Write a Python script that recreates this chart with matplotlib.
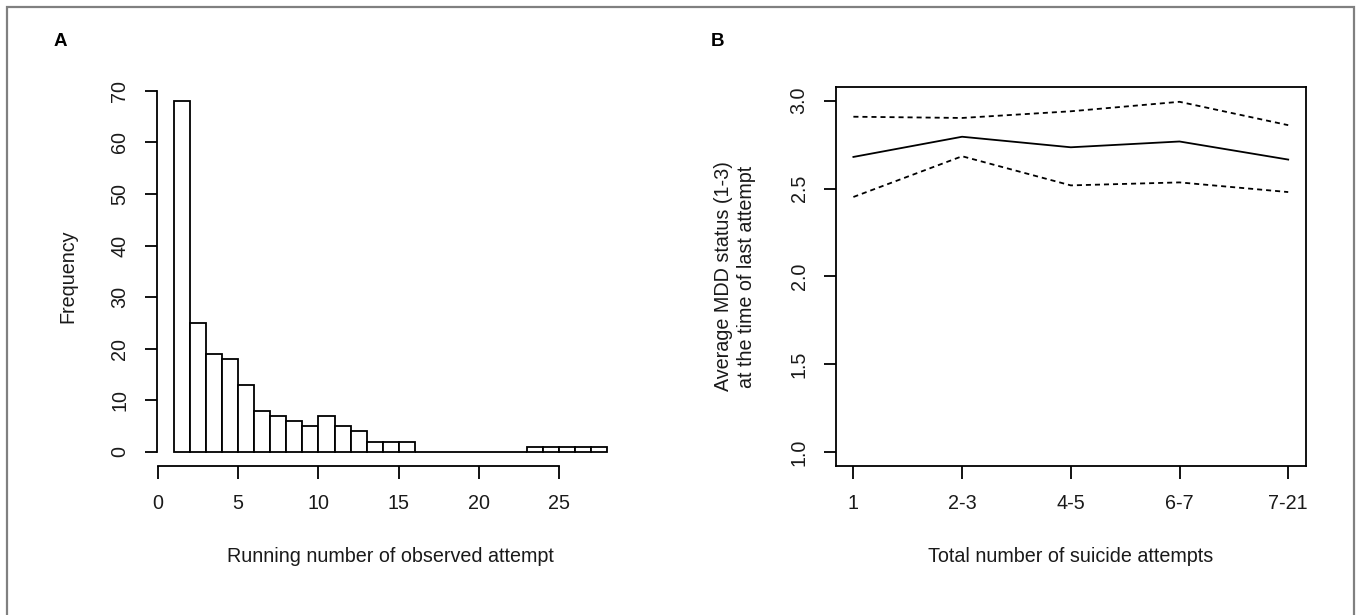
import matplotlib
matplotlib.use("Agg")
import matplotlib.pyplot as plt
from matplotlib.patches import Rectangle

plt.rcParams['font.family'] = ['Liberation Sans', 'DejaVu Sans']

# ---- Panel A data: histogram of running number of observed attempt ----
bin_start = 1
bin_width = 1
hist_counts = [68, 25, 19, 18, 13, 8, 7, 6, 5, 7, 5, 4, 2, 2, 2,
               0, 0, 0, 0, 0, 0, 0, 1, 1, 1, 1, 1]
a_xticks = [0, 5, 10, 15, 20, 25]
a_yticks = [0, 10, 20, 30, 40, 50, 60, 70]

# ---- Panel B data ----
b_categories = ["1", "2-3", "4-5", "6-7", "7-21"]
b_mean = [2.68, 2.795, 2.735, 2.768, 2.665]
b_upper = [2.909, 2.902, 2.94, 2.994, 2.861]
b_lower = [2.452, 2.684, 2.518, 2.535, 2.48]
b_yticks = [1.0, 1.5, 2.0, 2.5, 3.0]

W, H = 1357, 615
fig = plt.figure(figsize=(W / 100, H / 100), dpi=100)
fig.patch.set_facecolor("white")

def box(l, t, r, b):
    return [l / W, 1 - b / H, (r - l) / W, (b - t) / H]

def fx(x):
    return x / W

def fy(y):
    return 1 - y / H

FS = 14.2
TXT = "#1a1a1a"
LW = 1.3
TL = 9      # tick length (pt)
XPAD = 11.5
YPAD = 10.8

# border
fig.patches.append(Rectangle((7 / W, -0.05), (1354 - 7) / W, 1.05 - 7 / H,
                             transform=fig.transFigure, fill=False,
                             edgecolor="#808080", linewidth=1.6))

# ---------- Panel A ----------
axA = fig.add_axes(box(156.7, 87.0, 624.7, 466.0))
edges = [bin_start + i * bin_width for i in range(len(hist_counts))]
axA.bar(edges, hist_counts, width=bin_width, align="edge",
        facecolor="white", edgecolor="black", linewidth=LW)
axA.set_xlim(-0.08, 29.08)
axA.set_ylim(-2.72, 70.72)
for s in ["top", "right"]:
    axA.spines[s].set_visible(False)
axA.spines["left"].set_bounds(0, 70)
axA.spines["bottom"].set_bounds(0, 25)
for s in ["left", "bottom"]:
    axA.spines[s].set_linewidth(LW)
axA.set_xticks(a_xticks)
axA.set_xticklabels([str(v) for v in a_xticks])
axA.set_yticks(a_yticks)
axA.set_yticklabels([str(v) for v in a_yticks], rotation=90, va="center")
axA.tick_params(length=TL, width=LW, labelsize=FS, labelcolor=TXT)
axA.tick_params(axis="x", pad=XPAD)
axA.tick_params(axis="y", pad=YPAD)
axA.set_xlabel("Running number of observed attempt", fontsize=FS, color=TXT, va="center")
axA.xaxis.set_label_coords(fx(390.7), fy(557), transform=fig.transFigure)
axA.set_ylabel("Frequency", fontsize=FS, color=TXT, va="center")
axA.yaxis.set_label_coords(fx(68), fy(276.5), transform=fig.transFigure)
fig.text(60 / W, 1 - 41.5 / H, "A", fontsize=13.5, fontweight="bold",
         ha="center", va="center")

# ---------- Panel B ----------
axB = fig.add_axes(box(836.0, 86.7, 1305.6, 466.0))
xs = list(range(1, len(b_categories) + 1))
axB.plot(xs, b_mean, color="black", linewidth=LW)
axB.plot(xs, b_upper, color="black", linewidth=LW, dashes=(2.8, 2.2))
axB.plot(xs, b_lower, color="black", linewidth=LW, dashes=(2.8, 2.2))
axB.set_xlim(0.84, 5.16)
axB.set_ylim(0.92, 3.08)
for s in axB.spines.values():
    s.set_linewidth(LW)
axB.set_xticks(xs)
axB.set_xticklabels(b_categories)
axB.set_yticks(b_yticks)
axB.set_yticklabels([f"{v:.1f}" for v in b_yticks], rotation=90, va="center")
axB.tick_params(length=TL, width=LW, labelsize=FS, labelcolor=TXT)
axB.tick_params(axis="x", pad=XPAD)
axB.tick_params(axis="y", pad=YPAD)
axB.set_xlabel("Total number of suicide attempts", fontsize=FS, color=TXT, va="center")
axB.xaxis.set_label_coords(fx(1070.8), fy(557), transform=fig.transFigure)
axB.set_ylabel("Average MDD status (1-3)\nat the time of last attempt",
               fontsize=FS, color=TXT, va="center", linespacing=1.25)
axB.yaxis.set_label_coords(fx(735), fy(276.4), transform=fig.transFigure)
fig.text(718 / W, 1 - 41 / H, "B", fontsize=13.5, fontweight="bold",
         ha="center", va="center")

fig.savefig("out.png", dpi=100)
